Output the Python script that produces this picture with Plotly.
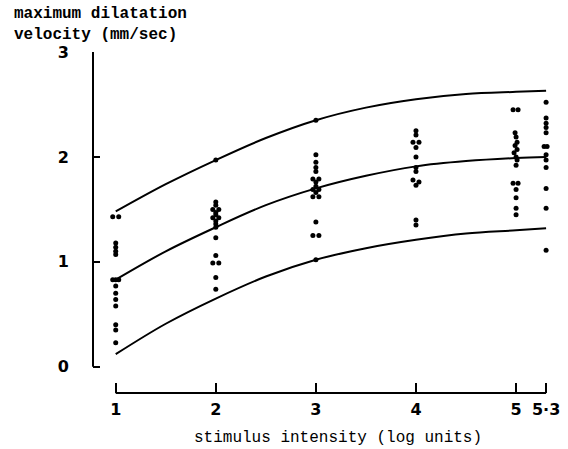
import plotly.graph_objects as go

# Fitted curves
curve_x = [1, 1.5, 2, 2.5, 3, 3.5, 4, 4.5, 5, 5.3]
upper_y = [1.48, 1.74, 1.97, 2.18, 2.35, 2.47, 2.55, 2.60, 2.62, 2.63]
middle_y = [0.83, 1.10, 1.33, 1.54, 1.70, 1.82, 1.91, 1.96, 1.99, 2.00]
lower_y = [0.12, 0.41, 0.65, 0.86, 1.02, 1.13, 1.21, 1.27, 1.30, 1.32]

# Individual observations
dots_x = [0.97, 1.03, 1, 1, 1, 1, 0.97, 1.0, 1.03, 1, 1, 1, 1, 1, 1, 1,
          2, 2, 2, 1.97, 2.03, 2, 2, 1.97, 2.03, 2, 2, 2, 2, 2, 1.97, 2.03, 2, 2,
          3, 3, 3, 3, 3, 2.97, 3.03, 3, 3, 2.97, 3.03, 3, 2.97, 3.03, 3, 2.97, 3.03, 3,
          4, 4, 3.97, 4.03, 4, 4, 4, 4, 3.97, 4.03, 4, 4, 4,
          4.97, 5.02, 4.99, 5, 5.01, 4.99, 5.01, 4.98, 5, 5.01, 5, 4.97, 5.02, 5, 5, 5, 5,
          5.3, 5.3, 5.3, 5.3, 5.3, 5.28, 5.31, 5.3, 5.3, 5.3, 5.3, 5.3, 5.3]
dots_y = [1.43, 1.43, 1.18, 1.14, 1.10, 1.07, 0.83, 0.83, 0.83, 0.77, 0.70, 0.64, 0.58, 0.40, 0.35, 0.23,
          1.97, 1.57, 1.54, 1.50, 1.50, 1.47, 1.45, 1.42, 1.42, 1.39, 1.36, 1.33, 1.23, 1.06, 0.99, 0.99, 0.85, 0.74,
          2.35, 2.02, 1.95, 1.90, 1.86, 1.79, 1.79, 1.76, 1.72, 1.69, 1.69, 1.66, 1.62, 1.62, 1.38, 1.25, 1.25, 1.02,
          2.25, 2.21, 2.14, 2.14, 2.09, 2.00, 1.90, 1.86, 1.78, 1.76, 1.73, 1.40, 1.35,
          2.45, 2.45, 2.23, 2.19, 2.14, 2.11, 2.07, 2.04, 2.00, 1.97, 1.92, 1.75, 1.75, 1.69, 1.61, 1.51, 1.45,
          2.52, 2.37, 2.32, 2.28, 2.23, 2.10, 2.10, 2.02, 1.97, 1.90, 1.70, 1.51, 1.11]

x_tickvals = [1, 2, 3, 4, 5, 5.3]
x_ticktext = ["<b>1</b>", "<b>2</b>", "<b>3</b>", "<b>4</b>", "<b>5</b>", "<b>5·3</b>"]
y_tickvals = [0, 1, 2, 3]
y_ticktext = ["<b>0</b>", "<b>1</b>", "<b>2</b>", "<b>3</b>"]

fig = go.Figure()
for cy in (upper_y, middle_y, lower_y):
    fig.add_trace(go.Scatter(x=curve_x, y=cy, mode="lines", line=dict(color="black", width=2, shape="spline"),
                             hoverinfo="skip", showlegend=False))
fig.add_trace(go.Scatter(x=dots_x, y=dots_y, mode="markers",
                         marker=dict(color="black", size=5), showlegend=False))

fig.update_layout(
    width=568, height=449,
    margin=dict(l=93, r=8, t=52, b=56),
    paper_bgcolor="white", plot_bgcolor="white",
    xaxis=dict(range=[0.773, 5.369], tickvals=x_tickvals, ticktext=x_ticktext,
               ticks="inside", ticklen=10, tickwidth=2, tickcolor="black",
               showgrid=False, zeroline=False, showline=False,
               tickfont=dict(family="DejaVu Sans", size=16, color="black"),
               ticklabelstandoff=5),
    yaxis=dict(range=[-0.25, 3.0], tickvals=y_tickvals, ticktext=y_ticktext,
               ticks="inside", ticklen=7, tickwidth=2, tickcolor="black",
               showgrid=False, zeroline=False, showline=False,
               tickfont=dict(family="DejaVu Sans", size=16, color="black"),
               ticklabelstandoff=23),
    shapes=[
        dict(type="line", xref="paper", yref="y", x0=0, x1=0, y0=0, y1=3,
             line=dict(color="black", width=2)),
        dict(type="line", xref="x", yref="paper", x0=1, x1=5.3, y0=0, y1=0,
             line=dict(color="black", width=2)),
    ],
    annotations=[
        dict(text="<b>maximum dilatation</b><br><b>velocity (mm/sec)</b>", xref="paper", yref="paper",
             x=-93/467, y=1 + 52/341, xanchor="left", yanchor="top", showarrow=False, align="left",
             xshift=11, yshift=-3,
             font=dict(family="Liberation Mono", size=16, color="black")),
        dict(text="stimulus intensity (log units)", xref="paper", yref="paper",
             x=(342-93)/467, y=0, xanchor="center", yanchor="middle", showarrow=False,
             yshift=-45,
             font=dict(family="Liberation Mono", size=16, color="black")),
    ],
)

fig.write_html("out.html")
